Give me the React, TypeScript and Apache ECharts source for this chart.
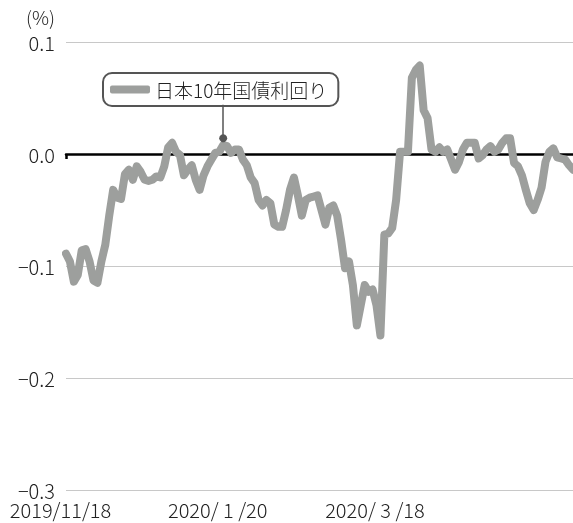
import React, { useEffect, useRef } from "react";
import * as echarts from "echarts";

const SERIES_NAME = "日本10年国債利回り";
const START_DATE = "2019/11/18";
const HOLIDAYS = [
  "2019/12/31", "2020/1/1", "2020/1/2", "2020/1/3", "2020/1/13", "2020/2/11",
  "2020/2/24", "2020/3/20", "2020/4/29", "2020/5/4", "2020/5/5", "2020/5/6",
];
// 10-year JGB yield (%), one value per business day
const yields = [
  -0.089, -0.096, -0.114, -0.108, -0.086, -0.085, -0.096, -0.113, -0.115, -0.096,
  -0.081, -0.055, -0.032, -0.039, -0.040, -0.018, -0.014, -0.023, -0.011, -0.016,
  -0.023, -0.024, -0.023, -0.020, -0.021, -0.011, 0.006, 0.010, 0.002, -0.001,
  -0.019, -0.014, -0.010, -0.023, -0.032, -0.019, -0.011, -0.005, 0.001, 0.002,
  0.008, 0.007, 0.001, 0.004, 0.004, -0.005, -0.010, -0.021, -0.026, -0.041,
  -0.046, -0.041, -0.044, -0.063, -0.065, -0.065, -0.050, -0.032, -0.021, -0.037,
  -0.055, -0.041, -0.039, -0.038, -0.037, -0.050, -0.063, -0.048, -0.046, -0.055,
  -0.077, -0.102, -0.096, -0.117, -0.153, -0.135, -0.117, -0.123, -0.121, -0.135,
  -0.162, -0.072, -0.071, -0.066, -0.041, 0.002, 0.002, 0.002, 0.068, 0.075,
  0.079, 0.039, 0.032, 0.004, 0.002, 0.006, 0.002, 0.004, -0.005, -0.014,
  -0.007, 0.004, 0.010, 0.010, 0.010, -0.004, -0.001, 0.004, 0.007, 0.002,
  0.004, 0.010, 0.014, 0.014, -0.008, -0.011, -0.019, -0.032, -0.044, -0.050,
  -0.041, -0.030, -0.007, 0.002, 0.005, -0.003, -0.004, -0.005, -0.010, -0.014,
];
const tickDates = ["2019/11/18", "2020/1/20", "2020/3/18"];
const tickLabels = ["2019/11/18", "2020/ 1 /20", "2020/ 3 /18"];
const Y_MIN = -0.3;
const Y_MAX = 0.1;
const Y_STEP = 0.1;
const Y_UNIT = "(%)";
// annotation: leader from the legend box down to a point on the line
const ANNOT_DATE = "2020/1/20";
const ANNOT_VALUE = 0.014;
const ANNOT_TOP = 0.044;

function fmt(d: Date) {
  return `${d.getFullYear()}/${d.getMonth() + 1}/${d.getDate()}`;
}
function buildDates(n: number): string[] {
  const out: string[] = [];
  const p = START_DATE.split("/").map(Number);
  const d = new Date(p[0], p[1] - 1, p[2]);
  while (out.length < n) {
    const wd = d.getDay();
    const s = fmt(d);
    if (wd !== 0 && wd !== 6 && HOLIDAYS.indexOf(s) < 0) out.push(s);
    d.setDate(d.getDate() + 1);
  }
  return out;
}
const dates = buildDates(yields.length);

const FONT = '"Noto Sans CJK JP", "Noto Sans", sans-serif';
const LINE_COLOR = "#9d9f9d";
const TEXT_COLOR = "#222";

export default function App() {
  const ref = useRef<HTMLDivElement>(null);
  useEffect(() => {
    if (!ref.current) return;
    const chart = echarts.init(ref.current, null, { renderer: "svg" });
    chart.setOption({
      animation: false,
      textStyle: { fontFamily: FONT },
      grid: { left: 66, right: 0, top: 42, bottom: 33 },
      legend: {
        left: 103,
        top: 73,
        data: [{ name: SERIES_NAME, icon: "roundRect" }],
        itemWidth: 40,
        itemHeight: 8,
        itemGap: 6,
        padding: [7, 11, 7, 7],
        borderColor: "#555",
        borderWidth: 2,
        borderRadius: 9,
        backgroundColor: "#fff",
        textStyle: { fontSize: 19, color: TEXT_COLOR, fontFamily: FONT, fontWeight: 300 },
        selectedMode: false,
      },
      xAxis: [
        {
          type: "category",
          data: dates,
          boundaryGap: false,
          position: "bottom",
          axisLine: { show: false, onZero: false },
          axisTick: { show: false },
          splitLine: { show: false },
          axisLabel: {
            interval: (_i: number, v: string) => tickDates.indexOf(v) >= 0,
            formatter: (v: string) => tickLabels[tickDates.indexOf(v)] ?? "",
            fontSize: 20,
            lineHeight: 17,
            fontWeight: 300,
            color: TEXT_COLOR,
            margin: 11,
            padding: [0, 11, 0, 0],
            fontFamily: FONT,
          },
        },
        {
          type: "category",
          data: dates,
          boundaryGap: false,
          position: "top",
          axisLine: { show: true, onZero: true, lineStyle: { color: "#000", width: 2.5 } },
          axisTick: {
            show: true,
            inside: true,
            length: 5,
            interval: (i: number) => i === 0,
            lineStyle: { color: "#000", width: 2.5 },
          },
          axisLabel: { show: false },
          splitLine: { show: false },
        },
      ],
      yAxis: {
        type: "value",
        min: Y_MIN,
        max: Y_MAX,
        interval: Y_STEP,
        name: Y_UNIT,
        nameLocation: "end",
        nameGap: 16,
        nameTextStyle: {
          fontSize: 19,
          fontWeight: 300,
          color: TEXT_COLOR,
          align: "right",
          padding: [0, 11, 0, 0],
          fontFamily: FONT,
        },
        axisLine: { show: false },
        axisTick: { show: false },
        splitLine: { lineStyle: { color: "#c8c8c8", width: 1 } },
        axisLabel: {
          fontSize: 20,
          lineHeight: 15,
          fontWeight: 300,
          color: TEXT_COLOR,
          margin: 11,
          fontFamily: FONT,
          formatter: (v: number) => {
            const r = Math.round(v * 10) / 10;
            if (r === 0) return "0.0";
            return (r < 0 ? "\u2212" : "") + Math.abs(r).toFixed(1);
          },
        },
      },
      series: [
        {
          name: SERIES_NAME,
          type: "line",
          xAxisIndex: 0,
          data: yields,
          showSymbol: false,
          symbol: "none",
          itemStyle: { color: LINE_COLOR },
          lineStyle: { color: LINE_COLOR, width: 8, cap: "round", join: "round" },
          markLine: {
            silent: true,
            symbol: ["none", "none"],
            label: { show: false },
            lineStyle: { color: "#555", width: 1.5, type: "solid" },
            data: [[{ coord: [ANNOT_DATE, ANNOT_VALUE] }, { coord: [ANNOT_DATE, ANNOT_TOP] }]],
          },
          markPoint: {
            silent: true,
            symbol: "circle",
            symbolSize: 8,
            itemStyle: { color: "#555" },
            label: { show: false },
            data: [{ coord: [ANNOT_DATE, ANNOT_VALUE] }],
          },
        },
      ],
    });
    return () => chart.dispose();
  }, []);
  return (
    <div
      ref={ref}
      style={{ position: "fixed", left: 0, top: 0, width: 573, height: 523 }}
    />
  );
}
